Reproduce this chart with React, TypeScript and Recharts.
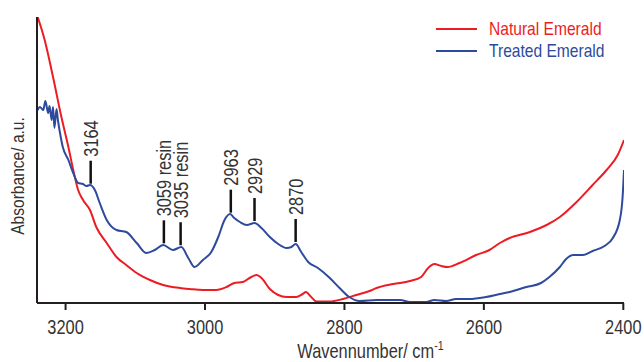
import React from "react";
import { LineChart, Line, XAxis, YAxis, ReferenceLine } from "recharts";

// wavenumbers (cm-1) and absorbance (arbitrary units)
const naturalWavenumbers = [
  3240, 3230, 3218, 3206, 3196, 3189, 3182, 3175, 3165, 3156, 3141, 3127, 3113,
  3098, 3079, 3060, 3036, 3022, 3003, 2984, 2969, 2958, 2946, 2936, 2926, 2919,
  2907, 2895, 2883, 2869, 2860, 2855, 2849, 2840, 2821, 2802, 2783, 2764, 2754,
  2730, 2706, 2690, 2680, 2671, 2661, 2652, 2635, 2611, 2592, 2577, 2563, 2534,
  2510, 2491, 2467, 2444, 2424, 2408, 2399,
];
const naturalAbsorbance = [
  286, 263, 226, 186, 156, 133, 113, 103, 93, 76, 60, 46, 38, 30, 23, 18, 15, 14,
  13, 13, 16, 20, 21, 25, 28, 25, 14, 8, 6, 6, 9, 11, 7, 1.5, 1.5, 4, 8, 12, 15,
  19, 22, 26, 35, 39, 37, 36, 40, 48, 53, 60, 65, 71, 78, 86, 101, 118, 133, 148,
  163,
];

const treatedWavenumbers = [
  3240, 3237, 3235, 3232, 3229, 3225, 3223, 3220, 3218, 3216, 3213, 3211, 3208,
  3204, 3196, 3189, 3182, 3175, 3170, 3165, 3158, 3151, 3141, 3127, 3113, 3098,
  3084, 3072, 3060, 3046, 3034, 3024, 3015, 3003, 2991, 2981, 2972, 2964, 2958,
  2950, 2940, 2929, 2919, 2907, 2895, 2883, 2876, 2870, 2862, 2852, 2838, 2821,
  2807, 2793, 2778, 2754, 2720, 2706, 2683, 2671, 2654, 2640, 2621, 2597, 2577,
  2563, 2539, 2518, 2506, 2491, 2482, 2472, 2458, 2444, 2427, 2415, 2405, 2401,
  2399,
];
const treatedAbsorbance = [
  193, 196, 195, 193, 202, 190, 197, 183, 196, 175, 194, 183, 170, 156, 143, 130,
  120, 119, 117, 118, 113, 100, 83, 73, 71, 60, 50, 53, 58, 53, 56, 45, 36, 43,
  51, 66, 83, 89, 85, 81, 78, 80, 75, 66, 59, 55, 56, 59, 51, 41, 35, 25, 15, 6,
  2, 3, 3, 1, 1, 3, 2, 4, 4, 6, 9, 11, 16, 20, 26, 36, 44, 48, 48, 52, 57, 65, 83,
  106, 133,
];

const peakWavenumbers = [3164, 3059, 3035, 2963, 2929, 2870];
const peakLabels = ["3164", "3059 resin", "3035 resin", "2963", "2929", "2870"];

const xTicks = [3200, 3000, 2800, 2600, 2400];

const natural = naturalWavenumbers.map((w, i) => ({ w, a: naturalAbsorbance[i] }));
const treated = treatedWavenumbers.map((w, i) => ({ w, a: treatedAbsorbance[i] }));

const RED = "#ed1c24";
const BLUE = "#2e4a9c";
const AXIS = "#231f20";
const TEXT = "#333333";
const FONT = "'Liberation Sans', Arial, sans-serif";
const NARROW = 0.82; // squeeze Liberation Sans to a condensed look

// absorbance of treated spectrum at a given wavenumber (linear between points)
const treatedAt = (w: number) => {
  for (let i = 0; i < treated.length - 1; i++) {
    const p = treated[i];
    const q = treated[i + 1];
    if (w <= p.w && w >= q.w) {
      const t = (p.w - w) / (p.w - q.w);
      return p.a + (q.a - p.a) * t;
    }
  }
  return 0;
};

const PeakLabel = (props: any) => {
  const { viewBox, text } = props;
  const x = viewBox.x;
  const y = viewBox.y - 4;
  return (
    <text
      transform={`translate(${x} ${y}) rotate(-90) scale(${NARROW} 1)`}
      x={0}
      y={0}
      textAnchor="start"
      dominantBaseline="central"
      fill={TEXT}
      fontSize={20}
      fontFamily={FONT}
    >
      {text}
    </text>
  );
};

const XTick = (props: any) => {
  const { x, y, payload } = props;
  return (
    <text
      transform={`translate(${x} ${y}) scale(${NARROW} 1)`}
      x={0}
      y={0}
      dy="0.71em"
      textAnchor="middle"
      fill={TEXT}
      fontSize={20}
      fontFamily={FONT}
    >
      {payload.value}
    </text>
  );
};

const XLabel = (props: any) => {
  const { viewBox } = props;
  const x = viewBox.x + viewBox.width / 2 + 40;
  return (
    <text
      transform={`translate(${x} 358) scale(${NARROW} 1)`}
      x={0}
      y={0}
      textAnchor="middle"
      fill={TEXT}
      fontSize={20}
      fontFamily={FONT}
    >
      Wavennumber/ cm
      <tspan fontSize={13} dy={-8}>
        -1
      </tspan>
    </text>
  );
};

const YLabel = (props: any) => {
  const { viewBox } = props;
  const x = viewBox.x + 17;
  const y = viewBox.y + viewBox.height / 2 + 16;
  return (
    <text
      transform={`translate(${x} ${y}) rotate(-90) scale(${NARROW} 1)`}
      x={0}
      y={0}
      textAnchor="middle"
      dominantBaseline="central"
      fill={TEXT}
      fontSize={19}
      fontFamily={FONT}
    >
      Absorbance/ a.u.
    </text>
  );
};

const legendRow = (color: string, label: string) => (
  <div style={{ display: "flex", alignItems: "center", height: 22 }}>
    <div style={{ width: 41, height: 2, background: color, marginRight: 12 }} />
    <span
      style={{
        color,
        fontSize: 19,
        fontFamily: FONT,
        lineHeight: "22px",
        display: "inline-block",
        whiteSpace: "nowrap",
        transform: `scaleX(${NARROW})`,
        transformOrigin: "left center",
      }}
    >
      {label}
    </span>
  </div>
);

const App = () => {
  return (
    <div style={{ position: "absolute", left: 0, top: 0, width: 644, height: 362, background: "#fff" }}>
      <LineChart
        width={644}
        height={362}
        margin={{ top: 17, right: 20, left: 0, bottom: 0 }}
      >
        <XAxis
          type="number"
          dataKey="w"
          domain={[2399, 3241]}
          reversed
          ticks={xTicks}
          height={59}
          tickSize={7}
          tickMargin={10}
          axisLine={{ stroke: AXIS, strokeWidth: 2 }}
          tickLine={{ stroke: AXIS, strokeWidth: 2 }}
          tick={<XTick />}
          label={<XLabel />}
          allowDataOverflow
        />
        <YAxis
          type="number"
          domain={[0, 286]}
          width={37}
          tick={false}
          tickLine={false}
          axisLine={{ stroke: AXIS, strokeWidth: 2 }}
          label={<YLabel />}
          allowDataOverflow
        />
        <Line
          data={natural}
          dataKey="a"
          name="Natural Emerald"
          type="monotone"
          stroke={RED}
          strokeWidth={2}
          dot={false}
          isAnimationActive={false}
        />
        <Line
          data={treated}
          dataKey="a"
          name="Treated Emerald"
          type="monotone"
          stroke={BLUE}
          strokeWidth={2}
          dot={false}
          isAnimationActive={false}
        />
        {peakWavenumbers.map((w, i) => {
          const a = treatedAt(w);
          return (
            <ReferenceLine
              key={w}
              segment={[
                { x: w, y: a + 2 },
                { x: w, y: a + 25 },
              ]}
              stroke="#111"
              strokeWidth={2.5}
              label={<PeakLabel text={peakLabels[i]} />}
            />
          );
        })}
      </LineChart>
      <div style={{ position: "absolute", left: 436, top: 18 }}>
        {legendRow(RED, "Natural Emerald")}
        {legendRow(BLUE, "Treated Emerald")}
      </div>
    </div>
  );
};

export default App;
